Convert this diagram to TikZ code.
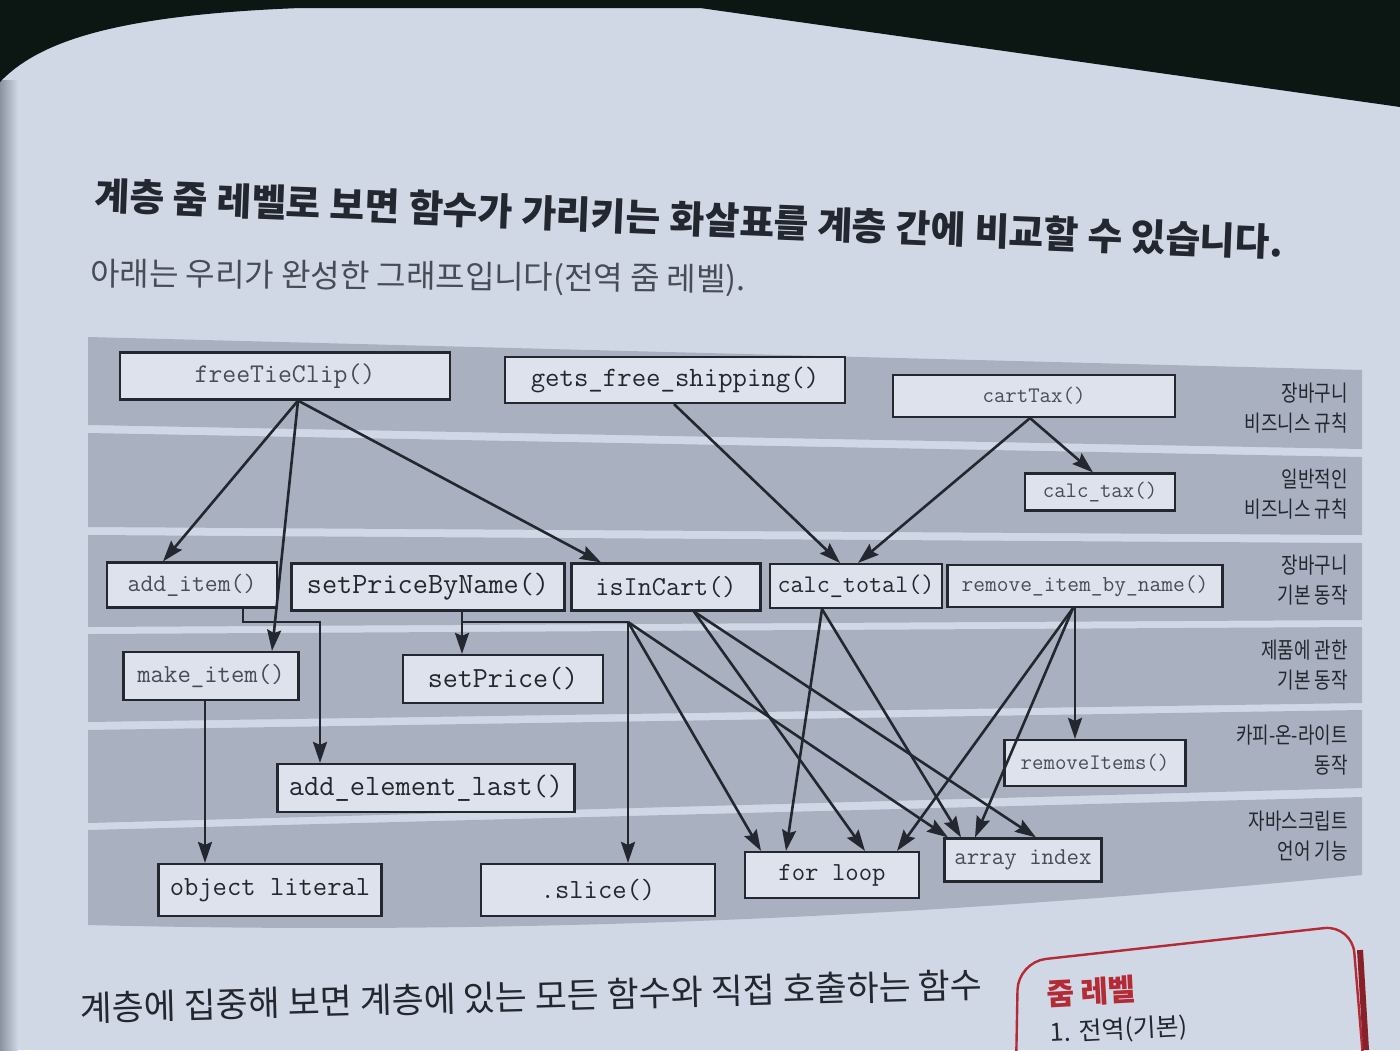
\documentclass[tikz,border=0pt]{standalone}
\usepackage{fontspec}
\newfontfamily\kr{Noto Sans CJK KR}
\newfontfamily\krc[FakeStretch=0.8]{Noto Sans CJK KR}
\usetikzlibrary{arrows.meta}
\definecolor{page}{HTML}{D0D7E5}
\definecolor{band}{HTML}{A9B0BF}
\definecolor{boxfill}{HTML}{DDE2EC}
\definecolor{ink}{HTML}{23272F}
\definecolor{inkl}{HTML}{474C57}
\definecolor{darkbg}{HTML}{0C1613}
\definecolor{edgeg}{HTML}{8B92A0}
\definecolor{redbox}{HTML}{B42A35}
\newcommand\fsz[1]{\fontsize{#1pt}{#1pt}\selectfont}
\newcommand\fszb[2]{\fontsize{#1pt}{#2pt}\selectfont}
\begin{document}
\begin{tikzpicture}[x=0.5pt,y=-0.5pt,
  fn/.style={draw=ink, fill=boxfill, line width=1.1pt, inner sep=0pt, text=ink},
  lite/.style={text=inkl},
  sz/.style 2 args={minimum width=#1*0.5pt, minimum height=#2*0.5pt},
  arr/.style={draw=ink, line width=1.3pt, -{Stealth[length=10.5pt,width=7pt,inset=1.5pt]}},
  conn/.style={draw=ink, line width=1.3pt},
  lay/.style={font=\krc\fszb{11.2}{15}, text=ink, anchor=east, align=right, inner sep=0pt},
  head/.style={font=\kr\bfseries\fsz{18.9}, anchor=west, rotate=-2.3, inner sep=0pt, text=ink},
]
\useasboundingbox (0,0) rectangle (1400,1050);
% page
\fill[page] (0,0) rectangle (1400,1050);
\shade[left color=edgeg, right color=page] (0,80) rectangle (18,1050);
\fill[darkbg] (0,0) -- (1400,0) -- (1400,107) -- (700,8) -- (300,8) .. controls (120,15) and (40,40) .. (0,82) -- cycle;

% text
\node[head] (title1) at (95,195) {계층 줌 레벨로 보면};
\node[head] (title2) at (title1.east) {\ 함수가 가리키는};
\node[head] (title3) at (title2.east) {\ 화살표를 계층 간에};
\node[head] (title4) at (title3.east) {\ 비교할 수 있습니다.};
\node[font=\kr\fsz{16}, anchor=west, rotate=-0.5, inner sep=0pt, text=inkl] (sub) at (90,275) {아래는 우리가 완성한 그래프입니다(전역 줌 레벨).};
\node[font=\kr\fsz{17.4}, anchor=west, rotate=1.5, inner sep=0pt, text=ink] (body) at (80,1008) {계층에 집중해 보면 계층에 있는 모든 함수와 직접 호출하는 함수};

% bands
\fill[band] (88,337) -- (1362,370) -- (1362,449) -- (88,425) -- cycle;
\fill[band] (88,433) -- (1362,457) -- (1362,535) -- (88,527) -- cycle;
\fill[band] (88,535) -- (1362,543) -- (1362,620) -- (88,627) -- cycle;
\fill[band] (88,634) -- (1362,627) -- (1362,703) -- (88,722) -- cycle;
\fill[band] (88,730) -- (1362,710) -- (1362,788) -- (88,823) -- cycle;
\fill[band] (88,830) -- (1362,797) -- (1362,875) .. controls (900,920) and (500,935) .. (88,925) -- cycle;

% layer labels
\node[lay] (L1) at (1348,408) {장바구니\\비즈니스 규칙};
\node[lay] (L2) at (1348,494) {일반적인\\비즈니스 규칙};
\node[lay] (L3) at (1348,580) {장바구니\\기본 동작};
\node[lay] (L4) at (1348,665) {제품에 관한\\기본 동작};
\node[lay] (L5) at (1348,750) {카피-온-라이트\\동작};
\node[lay] (L6) at (1348,836) {자바스크립트\\언어 기능};

% function boxes
\node[fn, lite, sz={330}{47}, font=\ttfamily\fsz{13.5}] (fTC) at (285,376) {freeTieClip()};
\node[fn, sz={340}{46}, font=\ttfamily\fsz{14}] (gfs) at (675,380) {gets\_free\_shipping()};
\node[fn, lite, sz={282}{42}, font=\ttfamily\fsz{11.1}] (cartTax) at (1034,396) {cartTax()};
\node[fn, lite, sz={150}{37}, font=\ttfamily\fsz{11.1}] (calcTax) at (1100,492) {calc\_tax()};
\node[fn, lite, sz={170}{45}, font=\ttfamily\fsz{12.5}] (addItem) at (192,585) {add\_item()};
\node[fn, sz={273}{47}, font=\ttfamily\fsz{14.7}] (setPBN) at (428,587) {setPriceByName()};
\node[fn, sz={189}{47}, font=\ttfamily\fsz{13.7}] (isInCart) at (666,587) {isInCart()};
\node[fn, sz={172}{44}, font=\ttfamily\fsz{12.7}] (calcTotal) at (856,586) {calc\_total()};
\node[fn, lite, sz={275}{42}, font=\ttfamily\fsz{11.4}] (rIBN) at (1085,586) {remove\_item\_by\_name()};
\node[fn, lite, sz={175}{48}, font=\ttfamily\fsz{13}] (makeItem) at (211,676) {make\_item()};
\node[fn, sz={200}{48}, font=\ttfamily\fsz{14.6}] (setPrice) at (503,679) {setPrice()};
\node[fn, sz={297}{48}, font=\ttfamily\fsz{14.8}] (addEL) at (426,788) {add\_element\_last()};
\node[fn, lite, sz={181}{46}, font=\ttfamily\fsz{11.1}] (removeItems) at (1095,763) {removeItems()};
\node[fn, sz={223}{52}, font=\ttfamily\fsz{13.9}] (objLit) at (270,890) {object literal};
\node[fn, sz={234}{52}, font=\ttfamily\fsz{13.9}] (slice) at (598,890) {.slice()};
\node[fn, sz={174}{46}, font=\ttfamily\fsz{13}] (forLoop) at (832,875) {for loop};
\node[fn, lite, sz={157}{43}, font=\ttfamily\fsz{12.1}] (arrIdx) at (1023,860) {array index};

% connectors
\draw[arr] (fTC.south -| 298,0) -- (addItem.north -| 163,0);
\draw[arr] (fTC.south -| 298,0) -- (makeItem.north -| 272,0);
\draw[arr] (fTC.south -| 298,0) -- (isInCart.north -| 601,0);
\draw[arr] (gfs.south -| 674,0) -- (calcTotal.north -| 840,0);
\draw[arr] (cartTax.south -| 1030,0) -- (calcTotal.north -| 858,0);
\draw[arr] (cartTax.south -| 1030,0) -- (calcTax.north -| 1093,0);
\coordinate (bendA) at (320,622);
\draw[arr] (addItem.south -| 243,0) |- (bendA) -- (addEL.north -| bendA);
\draw[arr] (makeItem.south -| 205,0) -- (objLit.north -| 205,0);
\draw[arr] (setPBN.south -| 462,0) -- (setPrice.north -| 462,0);
\coordinate (hub) at (628,622);
\draw[conn] (setPBN.south -| 462,0) |- (hub);
\draw[arr] (hub) -- (slice.north -| hub);
\draw[arr] (hub) -- (forLoop.north -| 761,0);
\draw[arr] (hub) -- (arrIdx.north -| 948,0);
\draw[arr] (isInCart.south -| 694,0) -- (forLoop.north -| 865,0);
\draw[arr] (isInCart.south -| 694,0) -- (arrIdx.north -| 1036,0);
\draw[arr] (calcTotal.south -| 822,0) -- (forLoop.north -| 786,0);
\draw[arr] (calcTotal.south -| 822,0) -- (arrIdx.north -| 961,0);
\draw[arr] (rIBN.south -| 1073,0) -- (forLoop.north -| 897,0);
\draw[arr] (rIBN.south -| 1073,0) -- (arrIdx.north -| 975,0);
\draw[arr] (rIBN.south -| 1075,0) -- (removeItems.north -| 1075,0);

% sidebar box
\draw[redbox, line width=1.2pt, rounded corners=14pt] (1016,1070) -- (1018,962) -- (1352,925) -- (1364,1070);
\draw[redbox!75!black, line width=3pt] (1360,950) -- (1366,1050);
\node[font=\kr\bfseries\fsz{15}, text=redbox, anchor=west, rotate=3, inner sep=0pt] (zl) at (1046,994) {줌 레벨};
\node[font=\kr\fsz{12.5}, text=ink, anchor=west, rotate=3, inner sep=0pt] (zl1) at (1050,1034) {1. 전역(기본)};
\end{tikzpicture}
\end{document}
